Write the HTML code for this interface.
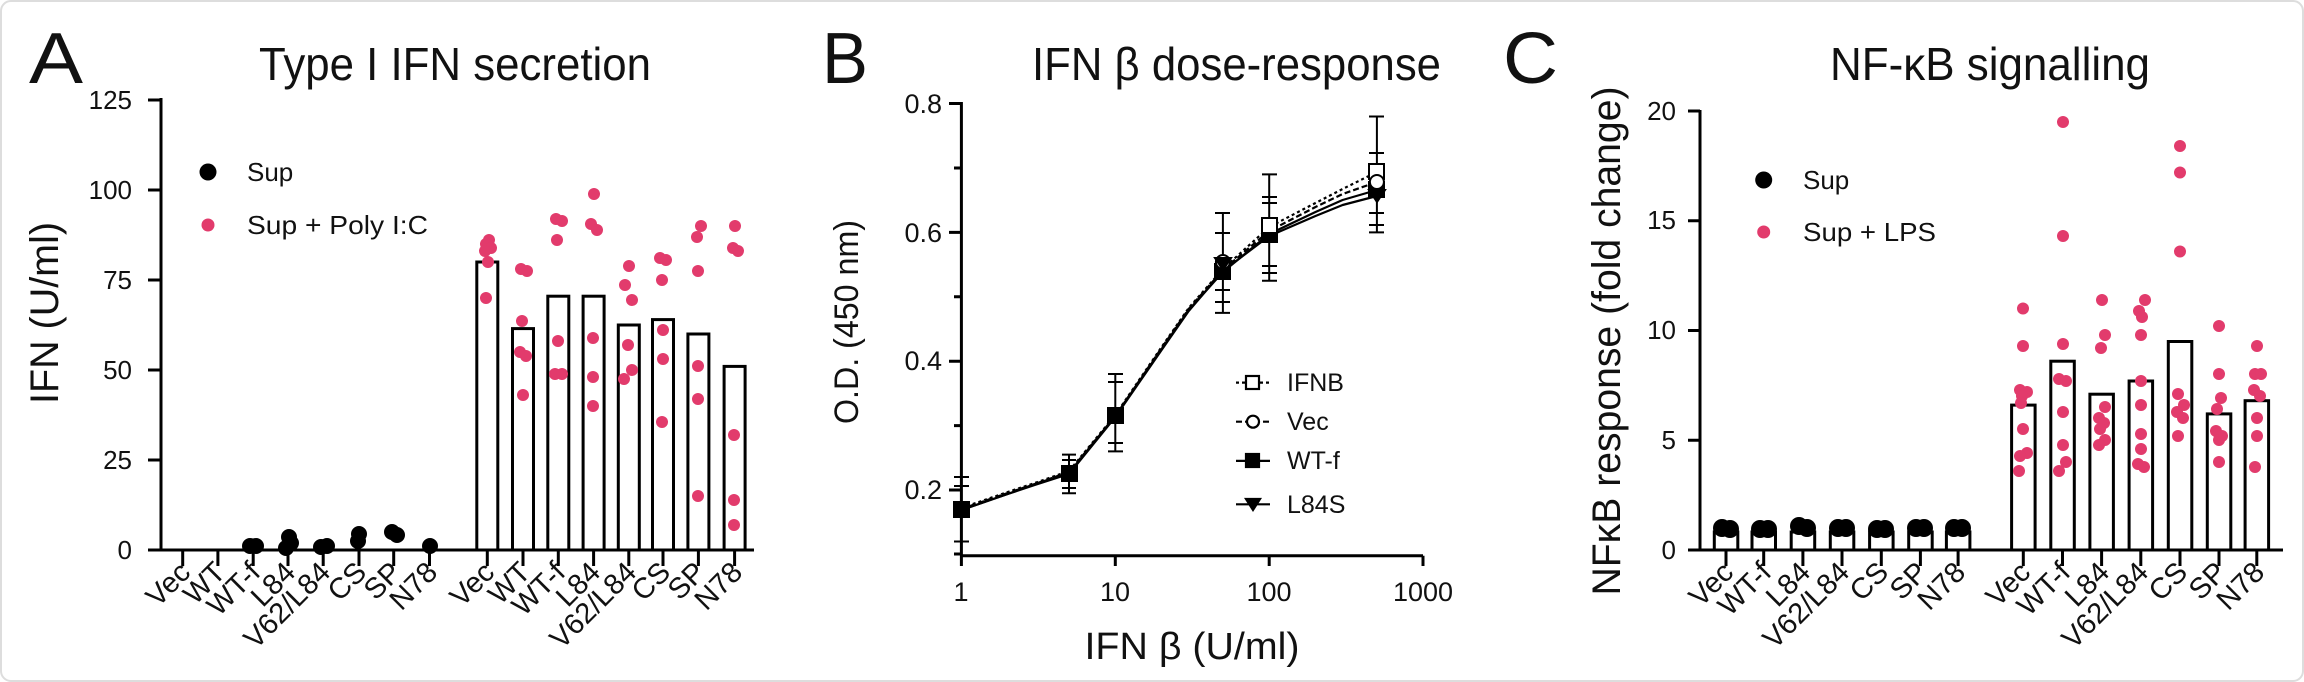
<!DOCTYPE html>
<html><head><meta charset="utf-8"><style>
html,body{margin:0;padding:0;background:#fff;}
svg{display:block;}
text{font-family:"Liberation Sans",Arial,sans-serif;fill:#111;}
</style></head><body>
<svg width="2304" height="682" viewBox="0 0 2304 682" xmlns="http://www.w3.org/2000/svg">
<rect x="1" y="1" width="2302" height="680" rx="10" fill="#fff" stroke="#ddd" stroke-width="2"/>

<!-- ===== Panel A ===== -->
<text x="29" y="83" font-size="72" textLength="54" lengthAdjust="spacingAndGlyphs">A</text>
<text x="259" y="80" font-size="46" textLength="392" lengthAdjust="spacingAndGlyphs">Type I IFN secretion</text>
<text transform="translate(58,313) rotate(-90)" text-anchor="middle" font-size="40" textLength="182" lengthAdjust="spacingAndGlyphs">IFN (U/ml)</text>
<g stroke="#000" stroke-width="3" fill="none">
<line x1="161" y1="98" x2="161" y2="551"/>
<line x1="160" y1="550" x2="754" y2="550"/>
<path d="M148 100H161M148 190H161M148 280H161M148 370H161M148 460H161M148 550H161"/>
<path d="M182.7 550V566M217.9 550V566M253.2 550V566M288 550V566M323.2 550V566M359 550V566M393.7 550V566M429.5 550V566M487.3 550V566M523 550V566M558.3 550V566M593.6 550V566M628.8 550V566M663 550V566M698.4 550V566M734.6 550V566"/>
</g>
<g font-size="26" text-anchor="end">
<text x="132" y="109">125</text><text x="132" y="199">100</text><text x="132" y="289">75</text>
<text x="132" y="379">50</text><text x="132" y="469">25</text><text x="132" y="559">0</text>
</g>
<g fill="#fff" stroke="#000" stroke-width="3">
<rect x="476.8" y="262" width="21" height="288"/>
<rect x="512.5" y="328.6" width="21" height="221.4"/>
<rect x="547.8" y="296.2" width="21" height="253.8"/>
<rect x="583.1" y="296.2" width="21" height="253.8"/>
<rect x="618.3" y="325" width="21" height="225"/>
<rect x="652.5" y="319.6" width="21" height="230.4"/>
<rect x="687.9" y="334" width="21" height="216"/>
<rect x="724.1" y="366.4" width="21" height="183.6"/>
</g>
<g fill="#000">
<circle cx="250" cy="546" r="8"/><circle cx="256" cy="546" r="8"/>
<circle cx="289" cy="537" r="8"/><circle cx="291" cy="543" r="8"/><circle cx="286" cy="548" r="8"/>
<circle cx="321" cy="547" r="8"/><circle cx="327" cy="546" r="8"/>
<circle cx="359" cy="534" r="8"/><circle cx="358" cy="541" r="8"/>
<circle cx="392" cy="532" r="8"/><circle cx="397" cy="535" r="8"/>
<circle cx="430" cy="546" r="8"/>
<circle cx="208" cy="172" r="8.5"/>
</g>
<g fill="#e23b6c">
<circle cx="208" cy="225" r="6.5"/>
<circle cx="489" cy="240" r="6"/><circle cx="486" cy="244" r="6"/><circle cx="491" cy="248" r="6"/><circle cx="485" cy="251" r="6"/><circle cx="488" cy="262" r="6"/><circle cx="486" cy="298" r="6"/>
<circle cx="521" cy="269" r="6"/><circle cx="527" cy="271" r="6"/><circle cx="522" cy="321" r="6"/><circle cx="520" cy="352" r="6"/><circle cx="526" cy="356" r="6"/><circle cx="523" cy="395" r="6"/>
<circle cx="556" cy="219" r="6"/><circle cx="562" cy="221" r="6"/><circle cx="557" cy="240" r="6"/><circle cx="558" cy="341" r="6"/><circle cx="555" cy="374" r="6"/><circle cx="562" cy="374" r="6"/>
<circle cx="594" cy="194" r="6"/><circle cx="591" cy="224" r="6"/><circle cx="597" cy="230" r="6"/><circle cx="593" cy="338" r="6"/><circle cx="593" cy="377" r="6"/><circle cx="593" cy="406" r="6"/>
<circle cx="629" cy="266" r="6"/><circle cx="625" cy="285" r="6"/><circle cx="632" cy="300" r="6"/><circle cx="628" cy="345" r="6"/><circle cx="632" cy="370" r="6"/><circle cx="624" cy="379" r="6"/>
<circle cx="660" cy="258" r="6"/><circle cx="666" cy="260" r="6"/><circle cx="662" cy="280" r="6"/><circle cx="663" cy="330" r="6"/><circle cx="663" cy="359" r="6"/><circle cx="662" cy="422" r="6"/>
<circle cx="701" cy="226" r="6"/><circle cx="697" cy="237" r="6"/><circle cx="698" cy="271" r="6"/><circle cx="698" cy="366" r="6"/><circle cx="698" cy="399" r="6"/><circle cx="698" cy="496" r="6"/>
<circle cx="735" cy="226" r="6"/><circle cx="733" cy="248" r="6"/><circle cx="738" cy="251" r="6"/><circle cx="734" cy="435" r="6"/><circle cx="734" cy="500" r="6"/><circle cx="734" cy="525" r="6"/>
</g>
<g font-size="26">
<text x="247" y="181">Sup</text>
<text x="247" y="234" textLength="181" lengthAdjust="spacingAndGlyphs">Sup + Poly I:C</text>
</g>
<g font-size="29" text-anchor="end">
<text transform="translate(192,574) rotate(-45)">Vec</text>
<text transform="translate(227,574) rotate(-45)">WT</text>
<text transform="translate(262,574) rotate(-45)">WT-f</text>
<text transform="translate(297,574) rotate(-45)">L84</text>
<text transform="translate(332,574) rotate(-45)">V62/L84</text>
<text transform="translate(368,574) rotate(-45)">CS</text>
<text transform="translate(403,574) rotate(-45)">SP</text>
<text transform="translate(439,574) rotate(-45)">N78</text>
<text transform="translate(496,574) rotate(-45)">Vec</text>
<text transform="translate(532,574) rotate(-45)">WT</text>
<text transform="translate(567,574) rotate(-45)">WT-f</text>
<text transform="translate(602,574) rotate(-45)">L84</text>
<text transform="translate(638,574) rotate(-45)">V62/L84</text>
<text transform="translate(672,574) rotate(-45)">CS</text>
<text transform="translate(707,574) rotate(-45)">SP</text>
<text transform="translate(744,574) rotate(-45)">N78</text>
</g>

<!-- ===== Panel B ===== -->
<text x="822" y="83" font-size="72" textLength="46" lengthAdjust="spacingAndGlyphs">B</text>
<text x="1032" y="80" font-size="46" textLength="409" lengthAdjust="spacingAndGlyphs">IFN β dose-response</text>
<text transform="translate(858,322) rotate(-90)" text-anchor="middle" font-size="34" textLength="204" lengthAdjust="spacingAndGlyphs">O.D. (450 nm)</text>
<text x="1192" y="659" text-anchor="middle" font-size="38" textLength="215" lengthAdjust="spacingAndGlyphs">IFN β (U/ml)</text>
<g stroke="#000" stroke-width="3" fill="none">
<line x1="961.4" y1="102" x2="961.4" y2="566"/>
<line x1="960" y1="555.7" x2="1423" y2="555.7"/>
<path d="M949 103.5H961M949 232.4H961M949 361.2H961M949 490H961M954 168H961M954 296.8H961M954 425.6H961M954 554H961"/>
<path d="M1115.3 555.7V566M1269.2 555.7V566M1423 555.7V566"/>
</g>
<g font-size="27" text-anchor="end">
<text x="942" y="113">0.8</text><text x="942" y="242">0.6</text><text x="942" y="370">0.4</text><text x="942" y="499">0.2</text>
</g>
<g font-size="27" text-anchor="middle">
<text x="961" y="601">1</text><text x="1115" y="601">10</text><text x="1269" y="601">100</text><text x="1423" y="601">1000</text>
</g>
<g stroke="#000" stroke-width="2" fill="none">
<path d="M961.4 477V541.5M954 477H969M954 486H969M954 541.5H969"/>
<path d="M1069 454.6V493.2M1062 454.6H1076M1062 460H1076M1062 488H1076M1062 493.2H1076"/>
<path d="M1115.3 374V451.4M1108 374H1123M1108 382H1123M1108 443H1123M1108 451.4H1123"/>
<path d="M1222.9 213V312.9M1215 213H1230M1215 233H1230M1215 290H1230M1215 302H1230M1215 312.9H1230"/>
<path d="M1269.2 174.4V280.7M1262 174.4H1277M1262 197H1277M1262 203H1277M1262 266H1277M1262 273H1277M1262 280.7H1277"/>
<path d="M1376.9 116.5V232.4M1369 116.5H1384M1369 153H1384M1369 213H1384M1369 225H1384M1369 232.4H1384"/>
</g>
<g fill="none" stroke="#000" stroke-width="2.2" stroke-linejoin="round">
<polyline points="961.4,508 1007.7,492 1034.8,483 1069,471 1115.3,415 1161.6,347 1188.7,308 1222.9,269 1269.2,227 1315.5,203 1342.6,189 1376.9,172" stroke-dasharray="3,3"/>
<polyline points="961.4,509 1007.7,493 1034.8,484 1069,472 1115.3,416 1161.6,348 1188.7,309 1222.9,270 1269.2,231 1315.5,207 1342.6,194 1376.9,182" stroke-dasharray="6,3"/>
<polyline points="961.4,510 1007.7,494 1034.8,484 1069,473 1115.3,416 1161.6,349 1188.7,310 1222.9,272 1269.2,234 1315.5,212 1342.6,200 1376.9,190"/>
<polyline points="961.4,510 1007.7,494 1034.8,485 1069,474 1115.3,417 1161.6,350 1188.7,311 1222.9,271 1269.2,236 1315.5,216 1342.6,205 1376.9,196"/>
</g>
<g stroke="#000" stroke-width="2">
<rect x="954" y="502" width="15" height="15" fill="#000"/>
<rect x="1062" y="466" width="15" height="15" fill="#000"/>
<rect x="1108" y="408" width="15" height="15" fill="#000"/>
<rect x="1215" y="264" width="15" height="15" fill="#000"/>
<rect x="1262" y="227" width="15" height="15" fill="#000"/>
<rect x="1369" y="182" width="15" height="15" fill="#000"/>
<rect x="1369" y="164" width="15" height="15" fill="#fff"/>
<rect x="1262" y="218" width="15" height="15" fill="#fff"/>
<circle cx="1376.9" cy="182" r="7" fill="#fff"/>
<circle cx="1222.9" cy="262" r="7" fill="#fff"/>
<path d="M1369 190H1385L1377 202Z" fill="#000"/>
<path d="M1215 258H1231L1223 270Z" fill="#000"/>
</g>
<g stroke="#000" stroke-width="2.2" fill="none">
<line x1="1236" y1="382.6" x2="1270" y2="382.6" stroke-dasharray="3,3"/>
<rect x="1246" y="376" width="13" height="13" fill="#fff"/>
<line x1="1236" y1="421.7" x2="1270" y2="421.7" stroke-dasharray="6,3"/>
<circle cx="1253" cy="421.7" r="6" fill="#fff"/>
<line x1="1236" y1="460.9" x2="1270" y2="460.9"/>
<rect x="1246" y="454" width="13" height="13" fill="#000"/>
<line x1="1236" y1="504.3" x2="1270" y2="504.3"/>
<path d="M1246 499H1260L1253 510Z" fill="#000"/>
</g>
<g font-size="25">
<text x="1287" y="391">IFNB</text><text x="1287" y="430">Vec</text><text x="1287" y="469">WT-f</text><text x="1287" y="513">L84S</text>
</g>

<!-- ===== Panel C ===== -->
<text x="1503" y="83" font-size="72" textLength="55" lengthAdjust="spacingAndGlyphs">C</text>
<text x="1830" y="80" font-size="46" textLength="320" lengthAdjust="spacingAndGlyphs">NF-κB signalling</text>
<text transform="translate(1620,341) rotate(-90)" text-anchor="middle" font-size="40" textLength="509" lengthAdjust="spacingAndGlyphs">NFκB response (fold change)</text>
<g stroke="#000" stroke-width="3" fill="none">
<line x1="1700" y1="110" x2="1700" y2="551"/>
<line x1="1699" y1="550" x2="2283" y2="550"/>
<path d="M1688 111H1700M1688 220.75H1700M1688 330.5H1700M1688 440.25H1700M1688 550H1700"/>
<path d="M1726 550V566M1763.7 550V566M1802.9 550V566M1842 550V566M1881.3 550V566M1920.4 550V566M1958.1 550V566M2023.3 550V566M2062.5 550V566M2101.6 550V566M2140.8 550V566M2180 550V566M2219 550V566M2256.8 550V566"/>
</g>
<g font-size="26" text-anchor="end">
<text x="1676" y="120">20</text><text x="1676" y="229">15</text><text x="1676" y="339">10</text>
<text x="1676" y="449">5</text><text x="1676" y="559">0</text>
</g>
<g fill="#fff" stroke="#000" stroke-width="3">
<rect x="1714.3" y="532" width="23.5" height="18"/>
<rect x="1752" y="532" width="23.5" height="18"/>
<rect x="1791.2" y="532" width="23.5" height="18"/>
<rect x="1830.3" y="532" width="23.5" height="18"/>
<rect x="1869.6" y="532" width="23.5" height="18"/>
<rect x="1908.7" y="532" width="23.5" height="18"/>
<rect x="1946.4" y="532" width="23.5" height="18"/>
<rect x="2011.6" y="405.1" width="23.5" height="144.9"/>
<rect x="2050.8" y="361.2" width="23.5" height="188.8"/>
<rect x="2089.9" y="394.2" width="23.5" height="155.8"/>
<rect x="2129.1" y="381" width="23.5" height="169"/>
<rect x="2168.3" y="341.5" width="23.5" height="208.5"/>
<rect x="2207.3" y="413.9" width="23.5" height="136.1"/>
<rect x="2245.1" y="400.7" width="23.5" height="149.3"/>
</g>
<g fill="#000">
<circle cx="1722" cy="528" r="9"/><circle cx="1730" cy="529" r="9"/>
<circle cx="1760" cy="529" r="9"/><circle cx="1768" cy="529" r="9"/>
<circle cx="1799" cy="526" r="9"/><circle cx="1807" cy="528" r="9"/>
<circle cx="1838" cy="528" r="9"/><circle cx="1846" cy="528" r="9"/>
<circle cx="1877" cy="529" r="9"/><circle cx="1885" cy="529" r="9"/>
<circle cx="1916" cy="528" r="9"/><circle cx="1924" cy="528" r="9"/>
<circle cx="1954" cy="528" r="9"/><circle cx="1962" cy="528" r="9"/>
<circle cx="1763.7" cy="180" r="8.5"/>
</g>
<g fill="#e23b6c">
<circle cx="1763.7" cy="232" r="6.5"/>
<circle cx="2023" cy="308.5" r="6"/><circle cx="2023" cy="346" r="6"/><circle cx="2020" cy="390" r="6"/><circle cx="2027" cy="392" r="6"/><circle cx="2022" cy="396" r="6"/><circle cx="2021" cy="403" r="6"/><circle cx="2023" cy="429" r="6"/><circle cx="2027" cy="453" r="6"/><circle cx="2020" cy="456" r="6"/><circle cx="2019" cy="471" r="6"/>
<circle cx="2063" cy="122" r="6"/><circle cx="2063" cy="236" r="6"/><circle cx="2063" cy="344" r="6"/><circle cx="2059" cy="379" r="6"/><circle cx="2066" cy="381" r="6"/><circle cx="2063" cy="412" r="6"/><circle cx="2063" cy="445" r="6"/><circle cx="2066" cy="462" r="6"/><circle cx="2059" cy="471" r="6"/>
<circle cx="2102" cy="300" r="6"/><circle cx="2105" cy="335" r="6"/><circle cx="2101" cy="348" r="6"/><circle cx="2105" cy="407" r="6"/><circle cx="2099" cy="418" r="6"/><circle cx="2104" cy="423" r="6"/><circle cx="2100" cy="429" r="6"/><circle cx="2105" cy="440" r="6"/><circle cx="2099" cy="445" r="6"/>
<circle cx="2145" cy="300" r="6"/><circle cx="2139" cy="311" r="6"/><circle cx="2142" cy="317" r="6"/><circle cx="2141" cy="335" r="6"/><circle cx="2141" cy="381" r="6"/><circle cx="2141" cy="405" r="6"/><circle cx="2141" cy="434" r="6"/><circle cx="2141" cy="449" r="6"/><circle cx="2138" cy="464" r="6"/><circle cx="2144" cy="467" r="6"/>
<circle cx="2180" cy="146" r="6"/><circle cx="2180" cy="172.5" r="6"/><circle cx="2180" cy="251.5" r="6"/><circle cx="2178" cy="394" r="6"/><circle cx="2184" cy="405" r="6"/><circle cx="2177" cy="412" r="6"/><circle cx="2183" cy="418" r="6"/><circle cx="2178" cy="436" r="6"/>
<circle cx="2219" cy="326" r="6"/><circle cx="2219" cy="374" r="6"/><circle cx="2221" cy="398" r="6"/><circle cx="2217" cy="409" r="6"/><circle cx="2216" cy="431" r="6"/><circle cx="2222" cy="436" r="6"/><circle cx="2219" cy="440" r="6"/><circle cx="2219" cy="462" r="6"/>
<circle cx="2257" cy="346" r="6"/><circle cx="2255" cy="374" r="6"/><circle cx="2261" cy="374" r="6"/><circle cx="2254" cy="390" r="6"/><circle cx="2260" cy="396" r="6"/><circle cx="2257" cy="418" r="6"/><circle cx="2257" cy="436" r="6"/><circle cx="2255" cy="467" r="6"/>
</g>
<g font-size="26">
<text x="1803" y="189">Sup</text>
<text x="1803" y="241" textLength="133" lengthAdjust="spacingAndGlyphs">Sup + LPS</text>
</g>
<g font-size="29" text-anchor="end">
<text transform="translate(1735,574) rotate(-45)">Vec</text>
<text transform="translate(1773,574) rotate(-45)">WT-f</text>
<text transform="translate(1812,574) rotate(-45)">L84</text>
<text transform="translate(1851,574) rotate(-45)">V62/L84</text>
<text transform="translate(1890,574) rotate(-45)">CS</text>
<text transform="translate(1929,574) rotate(-45)">SP</text>
<text transform="translate(1967,574) rotate(-45)">N78</text>
<text transform="translate(2032,574) rotate(-45)">Vec</text>
<text transform="translate(2072,574) rotate(-45)">WT-f</text>
<text transform="translate(2111,574) rotate(-45)">L84</text>
<text transform="translate(2150,574) rotate(-45)">V62/L84</text>
<text transform="translate(2189,574) rotate(-45)">CS</text>
<text transform="translate(2228,574) rotate(-45)">SP</text>
<text transform="translate(2266,574) rotate(-45)">N78</text>
</g>
</svg>
</body></html>
